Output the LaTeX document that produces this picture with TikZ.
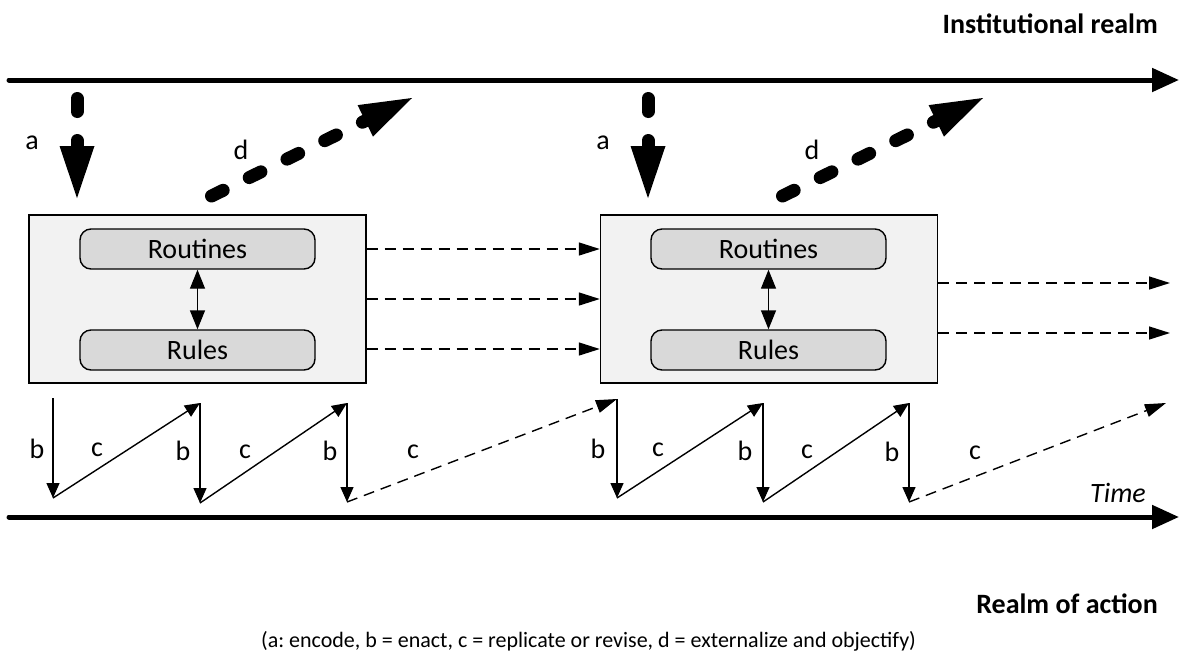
\documentclass[tikz,border=0pt]{standalone}
\usepackage{fontspec}
\setmainfont{Carlito}
\usetikzlibrary{arrows.meta}
\definecolor{boxfill}{HTML}{F2F2F2}
\definecolor{itemfill}{HTML}{D9D9D9}
\frenchspacing
\begin{document}
\begin{tikzpicture}[x=1pt,y=-1pt,
  outerbox/.style={draw,line width=1.4pt,fill=boxfill,minimum width=337pt,minimum height=168pt,inner sep=0pt},
  itembox/.style={draw,line width=1.4pt,fill=itemfill,rounded corners=11pt,minimum width=235pt,minimum height=40pt,inner sep=0pt,font=\fontsize{28}{33}\selectfont},
  lbl/.style={font=\fontsize{28}{33}\selectfont,inner sep=0pt},
  realm/.style={font=\bfseries\fontsize{28}{33}\selectfont,inner sep=0pt},
  axis/.style={line width=5pt,line cap=round,-{Triangle[length=27pt,width=23pt]}},
  bigdash/.style={line width=13pt,line cap=round,dash pattern=on 13pt off 29pt,
    -{Triangle[length=52pt,width=35pt,line width=0pt]}},
  thin/.style={line width=1.4pt,-{Triangle[length=15pt,width=13pt]}},
  thindash/.style={line width=1.4pt,dash pattern=on 11pt off 7pt,-{Triangle[length=21pt,width=13pt]}},
  dbl/.style={line width=1.4pt,{Triangle[length=19pt,width=15pt]}-{Triangle[length=19pt,width=15pt]}}
]
\useasboundingbox (0,0) rectangle (1179,657);

% the two realms
\coordinate (topL) at (9,80);
\coordinate (topR) at (1179,80);
\coordinate (botL) at (9,517);
\coordinate (botR) at (1179,517);
\draw[axis] (topL) -- (topR);
\draw[axis] (botL) -- (botR);
\node[realm,anchor=base east] (inst) at (1158,33) {Institutional realm};
\node[realm,anchor=base east] (act) at (1158,613) {Realm of action};
\node[lbl,anchor=base east,font=\itshape\fontsize{28}{33}\selectfont] (time) at (1146,502) {Time};

% first and second institution
\node[outerbox] (box1) at (197.5,299) {};
\node[itembox] (rout1) at (197.5,249) {Routines};
\node[itembox] (rule1) at (197.5,350) {Rules};
\draw[dbl] (rout1.south) -- (rule1.north);

\node[outerbox] (box2) at (769,299) {};
\node[itembox] (rout2) at (768.5,249) {Routines};
\node[itembox] (rule2) at (768.5,350) {Rules};
\draw[dbl] (rout2.south) -- (rule2.north);

% carry-over between institutions
\draw[thindash] ([yshift=50pt]box1.east) -- ([yshift=50pt]box2.west);
\draw[thindash] (box1.east) -- (box2.west);
\draw[thindash] ([yshift=-50pt]box1.east) -- ([yshift=-50pt]box2.west);
\coordinate (out1) at (1170,283);
\coordinate (out2) at (1170,333);
\draw[thindash] ([yshift=16pt]box2.east) -- (out1);
\draw[thindash] ([yshift=-34pt]box2.east) -- (out2);

% encode (a) and externalize (d)
\coordinate (a1s) at (77,98.5);
\coordinate (a1e) at (77,198);
\coordinate (a2s) at (648,98.5);
\coordinate (a2e) at (648,198);
\draw[bigdash] (a1s) -- (a1e);
\draw[bigdash] (a2s) -- (a2e);
\coordinate (d1s) at (211.5,196);
\coordinate (d1e) at (412,98);
\coordinate (d2s) at (782.5,196);
\coordinate (d2e) at (983,98);
\draw[bigdash] (d1s) -- (d1e);
\draw[bigdash] (d2s) -- (d2e);
\node[lbl] (la1) at (32,143) {a};
\node[lbl] (la2) at (603,143) {a};
\node[lbl] (ld1) at (241,150) {d};
\node[lbl] (ld2) at (812,150) {d};

% enact (b) and replicate/revise (c)
\coordinate (t1) at (53,398);  \coordinate (q1) at (53,498);
\coordinate (t2) at (200,403); \coordinate (q2) at (200,503);
\coordinate (t3) at (347,403); \coordinate (q3) at (347,502);
\coordinate (t4) at (617,399); \coordinate (q4) at (617,498);
\coordinate (t5) at (763,403); \coordinate (q5) at (763,502);
\coordinate (t6) at (909,403); \coordinate (q6) at (909,502);
\coordinate (t7) at (1166,403);
\draw[thin] (t1) -- (q1);
\draw[thin] (q1) -- (t2);
\draw[thin] (t2) -- (q2);
\draw[thin] (q2) -- (t3);
\draw[thin] (t3) -- (q3);
\draw[thindash] (q3) -- (t4);
\draw[thin] (t4) -- (q4);
\draw[thin] (q4) -- (t5);
\draw[thin] (t5) -- (q5);
\draw[thin] (q5) -- (t6);
\draw[thin] (t6) -- (q6);
\draw[thindash] (q6) -- (t7);
\node[lbl] (lb1) at (37,449) {b};
\node[lbl] (lc1) at (97,450) {c};
\node[lbl] (lb2) at (183,451) {b};
\node[lbl] (lc2) at (245,452) {c};
\node[lbl] (lb3) at (330,451) {b};
\node[lbl] (lc3) at (413,452) {c};
\node[lbl] (lb4) at (598,449) {b};
\node[lbl] (lc4) at (658,450) {c};
\node[lbl] (lb5) at (745,451) {b};
\node[lbl] (lc5) at (807,452) {c};
\node[lbl] (lb6) at (892,452) {b};
\node[lbl] (lc6) at (975,453) {c};

% legend
\node[inner sep=0pt,anchor=base,font=\fontsize{22}{26}\selectfont] (legend) at (588.5,647) {(a: encode, b = enact, c = replicate or revise, d = externalize and objectify)};
\end{tikzpicture}
\end{document}
